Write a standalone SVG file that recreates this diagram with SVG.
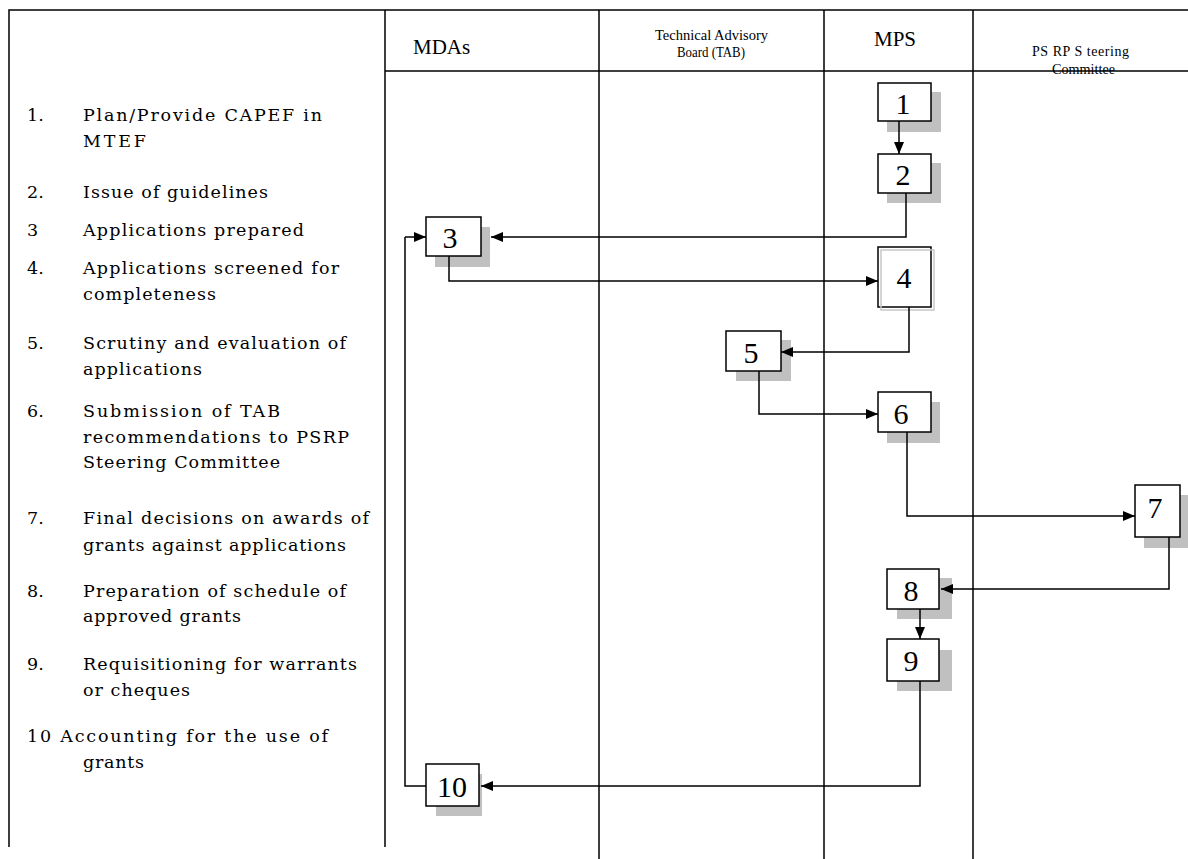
<svg xmlns="http://www.w3.org/2000/svg" width="1188" height="859" viewBox="0 0 1188 859">
<defs>
<marker id="ah" markerUnits="userSpaceOnUse" markerWidth="12" markerHeight="10" refX="12" refY="5" orient="auto">
<path d="M0,0 L12,5 L0,10 Z" fill="#000"/>
</marker>
</defs>
<style>
.grid{stroke:#000;stroke-width:1.5;fill:none}
.box{fill:#fff;stroke:#000;stroke-width:1.5}
.sh{fill:#c0c0c0}
.num{font-family:"Liberation Serif",serif;font-size:30px;fill:#000;text-anchor:middle}
.lst{font-family:"DejaVu Serif",serif;font-size:17.5px;fill:#000}
.hd{font-family:"Liberation Serif",serif;font-size:21px;fill:#000}
.hs{font-family:"Liberation Serif",serif;font-size:14px;fill:#000}
.con{stroke:#000;stroke-width:1.5;fill:none;marker-end:url(#ah)}
.ln{stroke:#000;stroke-width:1.5;fill:none}
</style>
<rect width="1188" height="859" fill="#fff"/>
<g id="grid">
<path class="grid" d="M9,847 V10 H1188 M385,71 H1188 M385,10 V847 M599,10 V859 M824,10 V859 M973,10 V859"/>
</g>
<g id="headers">
<text class="hd" x="413" y="54">MDAs</text>
<text class="hs" x="655" y="40" textLength="113" lengthAdjust="spacingAndGlyphs">Technical Advisory</text>
<text class="hs" x="677" y="57" textLength="68" lengthAdjust="spacingAndGlyphs">Board (TAB)</text>
<text class="hd" x="874" y="46">MPS</text>
<text class="hs" x="1032" y="56" textLength="97" lengthAdjust="spacing">PS RP S teering</text>
<text class="hs" x="1052" y="74" textLength="63" lengthAdjust="spacingAndGlyphs">Committee</text>
</g>
<g id="legend">
<text class="lst" x="27" y="121">1.</text>
<text class="lst" x="83" y="121" textLength="239" lengthAdjust="spacing">Plan/Provide CAPEF in</text>
<text class="lst" x="83" y="147" textLength="63" lengthAdjust="spacing">MTEF</text>
<text class="lst" x="27" y="198">2.</text>
<text class="lst" x="83" y="198" textLength="185" lengthAdjust="spacing">Issue of guidelines</text>
<text class="lst" x="27" y="236">3</text>
<text class="lst" x="83" y="236" textLength="221" lengthAdjust="spacing">Applications prepared</text>
<text class="lst" x="27" y="274">4.</text>
<text class="lst" x="83" y="274" textLength="256" lengthAdjust="spacing">Applications screened for</text>
<text class="lst" x="83" y="300" textLength="133" lengthAdjust="spacing">completeness</text>
<text class="lst" x="27" y="349">5.</text>
<text class="lst" x="83" y="349" textLength="263" lengthAdjust="spacing">Scrutiny and evaluation of</text>
<text class="lst" x="83" y="375" textLength="119" lengthAdjust="spacing">applications</text>
<text class="lst" x="27" y="417">6.</text>
<text class="lst" x="83" y="417" textLength="197" lengthAdjust="spacing">Submission of TAB</text>
<text class="lst" x="83" y="443" textLength="266" lengthAdjust="spacing">recommendations to PSRP</text>
<text class="lst" x="83" y="468" textLength="197" lengthAdjust="spacing">Steering Committee</text>
<text class="lst" x="27" y="524">7.</text>
<text class="lst" x="83" y="524" textLength="286" lengthAdjust="spacing">Final decisions on awards of</text>
<text class="lst" x="83" y="551" textLength="263" lengthAdjust="spacing">grants against applications</text>
<text class="lst" x="27" y="597">8.</text>
<text class="lst" x="83" y="597" textLength="263" lengthAdjust="spacing">Preparation of schedule of</text>
<text class="lst" x="83" y="622" textLength="158" lengthAdjust="spacing">approved grants</text>
<text class="lst" x="27" y="670">9.</text>
<text class="lst" x="83" y="670" textLength="274" lengthAdjust="spacing">Requisitioning for warrants</text>
<text class="lst" x="83" y="696" textLength="107" lengthAdjust="spacing">or cheques</text>
<text class="lst" x="27" y="742" textLength="301" lengthAdjust="spacing">10 Accounting for the use of</text>
<text class="lst" x="83" y="768" textLength="61" lengthAdjust="spacing">grants</text>
</g>
<g id="n1"><rect class="sh" x="887" y="92" width="54" height="40"/><rect class="box" x="878" y="83" width="53" height="38"/><text class="num" x="903" y="114">1</text></g>
<g id="n2"><rect class="sh" x="887" y="163" width="54" height="40"/><rect class="box" x="878" y="154" width="53" height="39"/><text class="num" x="903" y="185">2</text></g>
<g id="n3"><rect class="sh" x="435" y="227" width="55" height="40"/><rect class="box" x="426" y="217" width="55" height="39"/><text class="num" x="450" y="248">3</text></g>
<g id="n4"><rect class="box" x="878" y="247" width="53" height="60"/><rect x="881" y="250" width="53" height="60" fill="none" stroke="#c8c8c8" stroke-width="1.5"/><text class="num" x="904" y="288">4</text></g>
<g id="n5"><rect class="sh" x="736" y="340" width="55" height="41"/><rect class="box" x="726" y="331" width="55" height="40"/><text class="num" x="751" y="363">5</text></g>
<g id="n6"><rect class="sh" x="887" y="402" width="53" height="41"/><rect class="box" x="878" y="392" width="53" height="40"/><text class="num" x="901" y="424">6</text></g>
<g id="n7"><rect class="sh" x="1144" y="495" width="44" height="53"/><rect class="box" x="1135" y="485" width="45" height="52"/><text class="num" x="1155" y="518">7</text></g>
<g id="n8"><rect class="sh" x="897" y="578" width="55" height="41"/><rect class="box" x="887" y="569" width="52" height="40"/><text class="num" x="911" y="601">8</text></g>
<g id="n9"><rect class="sh" x="897" y="650" width="55" height="41"/><rect class="box" x="887" y="639" width="52" height="42"/><text class="num" x="911" y="671">9</text></g>
<g id="n10"><rect class="sh" x="436" y="774" width="46" height="42"/><rect class="box" x="426" y="764" width="53" height="42"/><text class="num" x="452" y="797">10</text></g>
<g id="connectors">
<path class="con" d="M899,121 V154"/>
<path class="con" d="M906,193 V237 H491"/>
<path class="con" d="M449,256 V281 H878"/>
<path class="con" d="M909,307 V352 H781"/>
<path class="con" d="M759,371 V414 H878"/>
<path class="con" d="M907,432 V516 H1135"/>
<path class="con" d="M1169,537 V589 H941"/>
<path class="con" d="M920,609 V639"/>
<path class="con" d="M920,681 V786 H481"/>
<path class="ln" d="M426,786 H405 V237"/>
<path class="con" d="M405,237 H426"/>
</g>
</svg>
